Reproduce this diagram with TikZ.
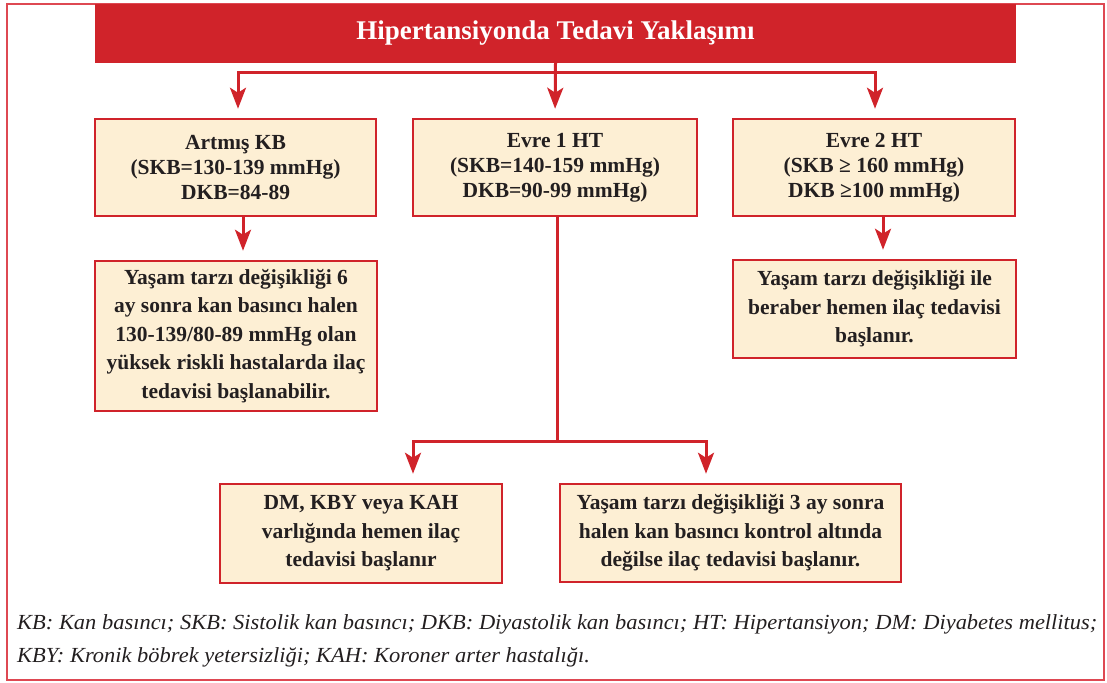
\documentclass[tikz,border=0pt]{standalone}
\usepackage{fontspec}
\setmainfont{Liberation Serif}
\newfontfamily\notefont{Liberation Serif}[FakeStretch=1.045]
\usetikzlibrary{arrows.meta}
\definecolor{hred}{RGB}{208,35,42}
\definecolor{hframe}{RGB}{222,72,82}
\definecolor{hcream}{RGB}{253,239,212}
\definecolor{htext}{RGB}{35,31,32}
\tikzset{
  box/.style={draw=hred,fill=hcream,line width=2.5pt,inner sep=0pt,
    align=center,text=htext,font=\bfseries\fontsize{21.5}{25}\selectfont},
  lowbox/.style={box,font=\bfseries\fontsize{21.5}{28.5}\selectfont},
  conn/.style={draw=hred,line width=3pt},
  arr/.style={conn,-{Stealth[length=21pt,width=16pt,inset=5pt]},shorten >=9pt},
  note/.style={anchor=base west,inner sep=0pt,text=htext,
    font=\notefont\itshape\fontsize{21.5}{24}\selectfont}
}
\begin{document}
\begin{tikzpicture}[x=1pt,y=-1pt]
  \useasboundingbox (0,0) rectangle (1107,682);
  \draw[hframe,line width=2pt] (7,4) rectangle (1104,680);
  \node[fill=hred,minimum width=921pt,minimum height=59pt,inner sep=0pt,
    text=white,font=\bfseries\fontsize{27}{30}\selectfont]
    (title) at (555.5,33.5) {Hipertansiyonda Tedavi Yaklaşımı};
  \node[box,minimum width=281pt,minimum height=97pt]
    (artmis) at (235.5,167.5) {Artmış KB\\(SKB=130-139 mmHg)\\DKB=84-89};
  \node[box,minimum width=284pt,minimum height=97pt]
    (evre1) at (555,167.5) {Evre 1 HT\\(SKB=140-159 mmHg)\\DKB=90-99 mmHg)};
  \node[box,minimum width=282pt,minimum height=97pt]
    (evre2) at (874,167.5) {Evre 2 HT\\(SKB ≥ 160 mmHg)\\DKB ≥100 mmHg)};
  \node[lowbox,minimum width=282pt,minimum height=150pt]
    (altiay) at (236,336) {Yaşam tarzı değişikliği 6\\ay sonra kan basıncı halen\\130-139/80-89 mmHg olan\\yüksek riskli hastalarda ilaç\\tedavisi başlanabilir.};
  \node[lowbox,minimum width=283pt,minimum height=98pt]
    (hemen) at (874.5,309) {Yaşam tarzı değişikliği ile\\beraber hemen ilaç tedavisi\\başlanır.};
  \node[lowbox,minimum width=282pt,minimum height=99pt]
    (dmkby) at (361,533.5) {DM, KBY veya KAH\\varlığında hemen ilaç\\tedavisi başlanır};
  \node[lowbox,minimum width=341pt,minimum height=98pt]
    (ucay) at (730.5,533) {Yaşam tarzı değişikliği 3 ay sonra\\halen kan basıncı kontrol altında\\değilse ilaç tedavisi başlanır.};
  \coordinate (top) at (555,73);
  \coordinate (fork) at (557,441);
  \draw[arr]
    (title.south)
    --
    (evre1.north);
  \draw[arr]
    (top)
    -|
    (artmis.north -| 238,0);
  \draw[arr]
    (top)
    -|
    (evre2.north -| 875,0);
  \draw[arr]
    (artmis.south -| 243,0)
    --
    (altiay.north -| 243,0);
  \draw[arr]
    (evre2.south -| 883,0)
    --
    (hemen.north -| 883,0);
  \draw[conn]
    (evre1.south -| fork)
    --
    (fork);
  \draw[arr]
    (fork)
    -|
    (dmkby.north -| 413,0);
  \draw[arr]
    (fork)
    -|
    (ucay.north -| 706,0);
  \node[note] (note1) at (17,629) {KB: Kan basıncı; SKB: Sistolik kan basıncı; DKB: Diyastolik kan basıncı; HT: Hipertansiyon; DM: Diyabetes mellitus;};
  \node[note] (note2) at (17,662) {KBY: Kronik böbrek yetersizliği; KAH: Koroner arter hastalığı.};
\end{tikzpicture}
\end{document}
